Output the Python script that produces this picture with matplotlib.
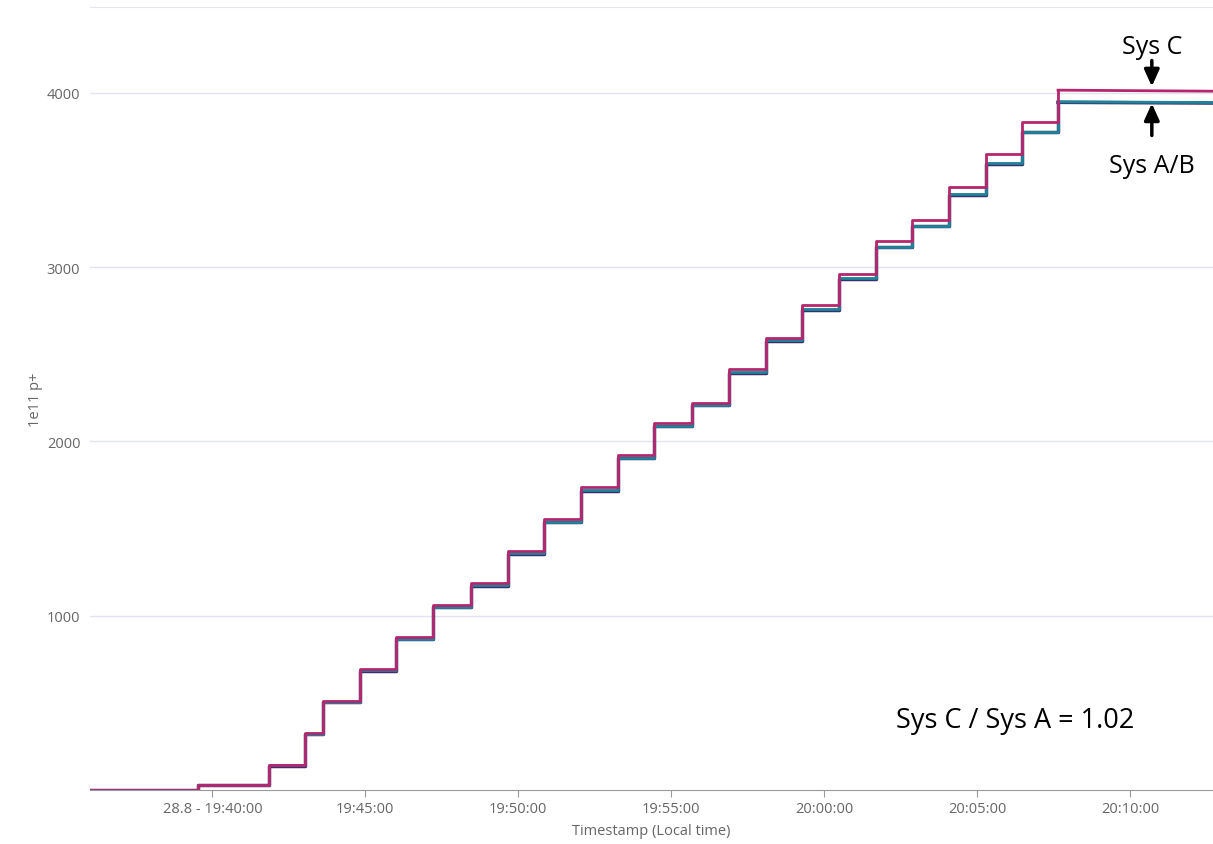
import matplotlib
matplotlib.use("Agg")
import matplotlib.pyplot as plt
import matplotlib.dates as mdates
from matplotlib.ticker import FuncFormatter
from datetime import datetime, timedelta

# step times (seconds after 19:36:00) and levels
rise_sec = [0, 211, 352, 422, 458, 530, 601, 673, 748, 820, 891, 964, 1036,
            1107, 1181, 1254, 1326, 1397, 1469, 1542, 1613, 1685, 1758, 1828, 1899]
sys_a = [0, 27, 142, 324, 505, 687, 868, 1050, 1174, 1357, 1538, 1720, 1905,
         2090, 2210, 2396, 2579, 2758, 2935, 3118, 3237, 3417, 3596, 3776, 3948]
sys_b = [0, 26, 140, 322, 503, 685, 865, 1047, 1171, 1354, 1535, 1717, 1902,
         2087, 2207, 2393, 2576, 2755, 2932, 3115, 3234, 3414, 3593, 3773, 3945]
sys_c = [0, 28, 144, 329, 512, 695, 878, 1060, 1185, 1370, 1552, 1737, 1921,
         2106, 2223, 2413, 2594, 2781, 2963, 3147, 3271, 3457, 3646, 3830, 4015]
end_sec = 2203
end_a, end_b, end_c = 3944, 3941, 4009

t0 = datetime(2023, 8, 28, 19, 36, 0)
times = [t0 + timedelta(seconds=s) for s in rise_sec]
t_end = t0 + timedelta(seconds=end_sec)

plt.rcParams['font.family'] = ['Open Sans', 'DejaVu Sans']

fig = plt.figure(figsize=(12.13, 8.45), dpi=100)
ax = fig.add_axes([90 / 1213, 1 - 791 / 845, 1 - 90 / 1213, (791 - 8) / 845])

col_a = '#1f8399'
col_b = '#3a2f6a'
col_c = '#b5266e'

# dark line under the teal one, magenta on top
for vals, endv, col, lw in [(sys_b, end_b, col_b, 2.5), (sys_a, end_a, col_a, 2.0),
                            (sys_c, end_c, col_c, 2.0)]:
    ax.step(times, vals, where='post', color=col, lw=lw)
    ax.plot([times[-1], t_end], [vals[-1], endv], color=col, lw=lw)

ax.set_xlim(t0, t_end)
ax.set_ylim(0, 4492)

ax.set_yticks([1000, 2000, 3000, 4000])
ax.yaxis.grid(True, color='#e1e5f2', lw=1)
ax.set_axisbelow(True)

ticks = [datetime(2023, 8, 28, 19, 40) + timedelta(minutes=5 * i) for i in range(7)]
ax.set_xticks(ticks)

def fmt(x, pos):
    d = mdates.num2date(x)
    if pos == 0:
        return '28.8 - ' + d.strftime('%H:%M:%S')
    return d.strftime('%H:%M:%S')

ax.xaxis.set_major_formatter(FuncFormatter(fmt))

for s in ['left', 'right']:
    ax.spines[s].set_visible(False)
ax.spines['top'].set_color('#e1e5f2')
ax.spines['bottom'].set_color('#9a9a9a')
ax.tick_params(axis='x', colors='#666666', labelsize=10.5, length=5, color='#9a9a9a', pad=3)
ax.tick_params(axis='y', colors='#666666', labelsize=10.5, length=0, pad=7)
ax.set_xlabel('Timestamp (Local time)', color='#666666', fontsize=10.5, labelpad=5)
ax.set_ylabel('1e11 p+', color='#666666', fontsize=10.5, labelpad=3)

# annotations
arrow = dict(arrowstyle='-|>,head_width=0.45,head_length=1.0', color='black', lw=2.5,
             shrinkA=0, shrinkB=0)
x_arrow = t0 + timedelta(seconds=2083)
ax.text(x_arrow, 4266, 'Sys C', fontsize=18, ha='center', va='center', color='black')
ax.annotate('', xy=(x_arrow, 4036), xytext=(x_arrow, 4185), arrowprops=arrow)
ax.text(x_arrow, 3583, 'Sys A/B', fontsize=18, ha='center', va='center', color='black')
ax.annotate('', xy=(x_arrow, 3939), xytext=(x_arrow, 3755), arrowprops=arrow)
ax.text(t0 + timedelta(seconds=1814), 399, 'Sys C / Sys A = 1.02', fontsize=19.5,
        ha='center', va='center', color='black')

fig.savefig('out.png', dpi=100)
